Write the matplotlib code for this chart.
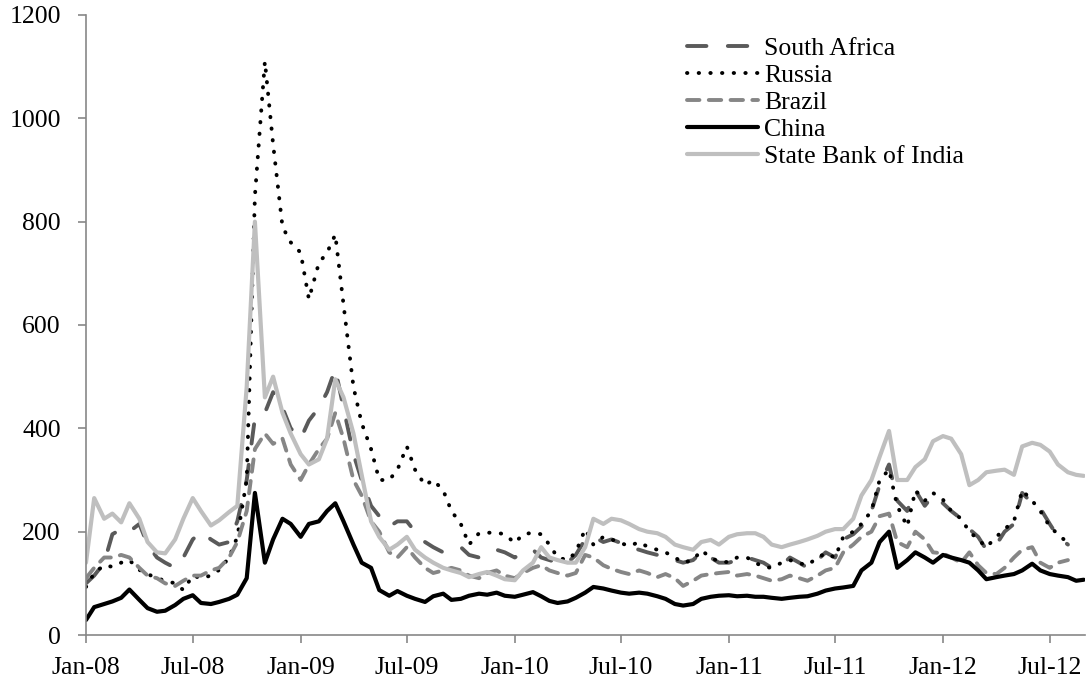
import numpy as np
import pandas as pd
import matplotlib
matplotlib.use('Agg')
import matplotlib.pyplot as plt
import matplotlib.dates as mdates

plt.rcParams['font.family'] = ['Liberation Serif', 'DejaVu Serif']

nan = np.nan

# semi-monthly observations (1st and 15th of each month), last one end of Aug 2012
dates = list(pd.date_range('2008-01-01', '2012-08-15', freq='SMS')) + [pd.Timestamp('2012-08-28')]

south_africa = [
    100, 115, 140, 195, 205, 200, 215, 175, 150, 140, 130, 150, 185, 200, 185, 175, 180, 220, 300, 420, 430, 470, 440, 400,
    380, 415, 440, 470, 515, 440, 350, 300, 250, 230, 210, 220, 220, 200, 180, 170, 160, 165, 170, 155, 150, 160, 165, 160,
    150, 160, 165, 150, 145, 140, 140, 155, 185, 190, 180, 185, 178, 170, 165, 160, 155, 150, 145, 140, 145, 160, 150, 140,
    140, 145, 150, 145, 140, 130, 135, 150, 140, 130, 145, 160, 150, 185, 195, 210, 240, 290, 330, 260, 240, 280, 250, 270,
    255, 240, 225, 205, 190, 165, 175, 200, 215, 275, 255, 245, 215, 190, 175, nan, nan,
]
russia = [
    93, 120, 135, 132, 140, 145, 126, 118, 110, 105, 100, 87, 115, 110, 115, 126, 150, 190, 300, 850, 1110, 950, 790, 760,
    740, 650, 720, 740, 775, 640, 480, 410, 360, 300, 300, 320, 365, 320, 290, 300, 280, 240, 215, 175, 197, 198, 198, 195,
    178, 195, 198, 195, 175, 150, 145, 160, 205, 175, 190, 185, 178, 172, 180, 171, 165, 160, 150, 140, 145, 164, 150, 142,
    141, 150, 150, 140, 132, 130, 140, 145, 139, 135, 150, 158, 150, 190, 200, 215, 240, 300, 320, 250, 210, 280, 260, 275,
    262, 240, 225, 200, 185, 170, 190, 205, 220, 280, 260, 240, 210, 195, 178, nan, nan,
]
brazil = [
    110, 130, 150, 150, 155, 150, 130, 115, 110, 100, 95, 105, 115, 115, 125, 130, 150, 180, 240, 360, 390, 370, 380, 330,
    300, 330, 360, 380, 430, 380, 300, 270, 220, 200, 160, 150, 170, 150, 130, 120, 125, 130, 125, 115, 110, 120, 125, 115,
    110, 120, 130, 135, 125, 120, 115, 120, 155, 150, 135, 128, 122, 118, 125, 120, 112, 118, 110, 95, 105, 115, 118, 120,
    122, 115, 118, 115, 110, 105, 108, 115, 110, 105, 115, 125, 130, 160, 175, 190, 200, 230, 235, 180, 170, 200, 185, 160,
    158, 150, 140, 160, 135, 120, 118, 130, 150, 165, 170, 140, 130, 140, 145, nan, nan,
]
china = [
    29, 54, 60, 65, 72, 88, 68, 52, 45, 47, 58, 70, 77, 62, 60, 64, 70, 78, 110, 275, 140, 185, 225, 215,
    190, 215, 220, 240, 255, 220, 175, 140, 130, 87, 76, 85, 76, 70, 64, 75, 80, 68, 70, 76, 80, 78, 82, 76,
    74, 78, 83, 75, 66, 62, 65, 72, 82, 93, 90, 86, 82, 80, 82, 80, 75, 70, 60, 57, 60, 70, 74, 76,
    77, 75, 76, 74, 74, 72, 70, 72, 74, 75, 80, 86, 90, 92, 95, 125, 140, 180, 200, 130, 145, 160, 150, 140,
    155, 150, 145, 140, 125, 108, 112, 115, 118, 125, 138, 125, 118, 115, 112, 105, 107,
]
sbi = [
    140, 265, 225, 235, 218, 255, 225, 180, 160, 158, 185, 225, 265, 240, 212, 222, 238, 250, 480, 800, 460, 500, 430, 390,
    350, 330, 340, 380, 495, 460, 390, 310, 220, 190, 165, 175, 190, 165, 150, 140, 130, 125, 120, 112, 118, 122, 115, 108,
    106, 125, 140, 170, 150, 145, 140, 140, 170, 225, 215, 225, 222, 215, 205, 200, 197, 190, 175, 170, 165, 180, 184, 175,
    190, 195, 197, 197, 190, 175, 170, 175, 180, 185, 192, 200, 205, 205, 225, 270, 300, 345, 395, 300, 300, 325, 340, 375,
    385, 380, 350, 290, 300, 315, 318, 320, 310, 365, 372, 368, 355, 330, 315, 310, 308,
]

series = [
    ('South Africa', south_africa, '#5a5a5a', (5, 5.5)),
    ('Russia', russia, 'black', (0.1, 2.9)),
    ('Brazil', brazil, '#868686', (3.2, 2.4)),
    ('China', china, 'black', None),
    ('State Bank of India', sbi, '#bfbfbf', None),
]

fig = plt.figure(figsize=(10.87, 6.78), dpi=100)
ax = fig.add_axes([0.0791, 0.0634, 0.919, 0.9145])

for name, vals, col, dash in series:
    if dash is None:
        ax.plot(dates, vals, color=col, lw=3.0, label=name,
                solid_capstyle='round', solid_joinstyle='round')
    else:
        ax.plot(dates, vals, color=col, lw=2.8, label=name,
                dashes=dash, dash_capstyle='round', dash_joinstyle='round')

ax.set_ylim(0, 1200)
ax.set_yticks(range(0, 1201, 200))
ax.set_xlim(pd.Timestamp('2008-01-01'), pd.Timestamp('2012-08-30'))
ax.xaxis.set_major_locator(mdates.MonthLocator(bymonth=[1, 7]))
ax.xaxis.set_major_formatter(mdates.DateFormatter('%b-%y'))

for side in ['top', 'right']:
    ax.spines[side].set_visible(False)
for side in ['left', 'bottom']:
    ax.spines[side].set_color('#878787')
    ax.spines[side].set_linewidth(1.2)
ax.tick_params(axis='both', colors='#878787', labelcolor='black', labelsize=18.5,
               length=6, width=1.2)
ax.tick_params(axis='y', pad=12)
ax.tick_params(axis='x', pad=10)

leg = ax.legend(loc='upper left', bbox_to_anchor=(0.6016, 0.964), frameon=False,
                fontsize=18.5, handlelength=2.75, handletextpad=0.25,
                labelspacing=0.15, borderaxespad=0, borderpad=0)

fig.savefig('out.png', dpi=100)
